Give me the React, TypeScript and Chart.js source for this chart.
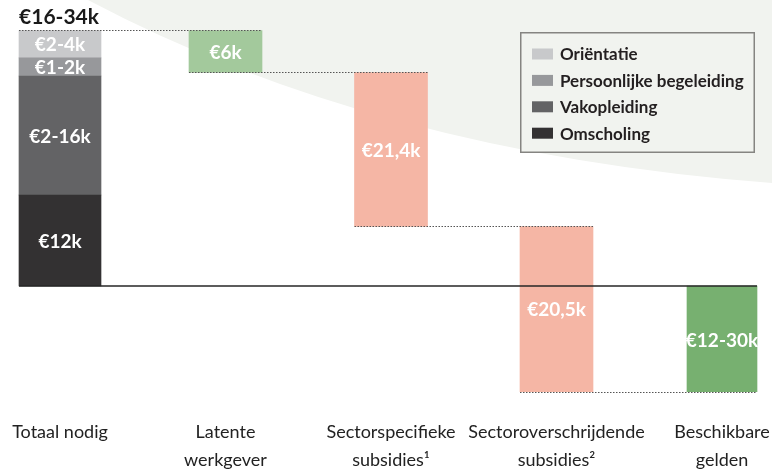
import React, { useEffect, useRef } from 'react';
import { Chart, registerables } from 'chart.js';

Chart.register(...registerables);

// ---- data ----
const categories: (string | string[])[] = [
  'Totaal nodig',
  ['Latente', 'werkgever'],
  ['Sectorspecifieke', 'subsidies¹'],
  ['Sectoroverschrijdende', 'subsidies²'],
  ['Beschikbare', 'gelden'],
];

// cost build-up of the first bar (bottom to top)
const costSegments = ['Omscholing', 'Vakopleiding', 'Persoonlijke begeleiding', 'Oriëntatie'];
const costValues = [13, 17, 2.6, 3.9];
const costLabels = ['€12k', '€2-16k', '€1-2k', '€2-4k'];
const totalLabel = '€16-34k';

// funding steps (reductions of what is needed)
const fundingValues = [6, 22, 23.6];
const fundingLabels = ['€6k', '€21,4k', '€20,5k'];
const availableLabel = '€12-30k';

// ---- styles ----
const costColors = ['#333132', '#636365', '#97989b', '#c8c9cb'];
const fundingColors = ['#a3c99c', '#f5b6a5', '#f5b6a5'];
const availableColor = '#77b070';
const shadeColor = '#f1f3ef';
const FONT = 'Lato, "Open Sans", sans-serif';

export default function App() {
  const ref = useRef<HTMLCanvasElement | null>(null);

  useEffect(() => {
    if (!ref.current) return;

    // cumulative ranges
    const costRanges: [number, number][] = [];
    let acc = 0;
    costValues.forEach((v) => {
      costRanges.push([acc, acc + v]);
      acc += v;
    });
    const total = acc;
    const levels: number[] = [total];
    const fundingRanges: [number, number][] = [];
    let lvl = total;
    fundingValues.forEach((v) => {
      fundingRanges.push([lvl - v, lvl]);
      lvl -= v;
      levels.push(lvl);
    });
    const finalLevel = lvl;

    const n = categories.length;
    const datasets: any[] = costSegments.map((name, i) => ({
      label: name,
      data: categories.map((_, c) => (c === 0 ? costRanges[i] : null)),
      backgroundColor: costColors[i],
      barThickness: 82,
      grouped: false,
      clip: false,
    }));
    datasets.push({
      label: 'Financiering',
      data: categories.map((_, c) => (c >= 1 && c <= fundingValues.length ? fundingRanges[c - 1] : null)),
      backgroundColor: categories.map((_, c) => (c >= 1 && c <= fundingValues.length ? fundingColors[c - 1] : 'transparent')),
      barThickness: 73,
      grouped: false,
      clip: false,
    });
    datasets.push({
      label: 'Beschikbaar',
      data: categories.map((_, c) => (c === n - 1 ? [finalLevel, 0] : null)),
      backgroundColor: availableColor,
      barThickness: 70,
      grouped: false,
      clip: false,
    });

    const shadePlugin = {
      id: 'shade',
      beforeDraw(chart: any) {
        const { ctx, width } = chart;
        ctx.save();
        ctx.fillStyle = shadeColor;
        ctx.beginPath();
        ctx.moveTo(88, 0);
        ctx.quadraticCurveTo(377, 153, width, 183);
        ctx.lineTo(width, 0);
        ctx.closePath();
        ctx.fill();
        ctx.restore();
      },
    };

    const overlayPlugin = {
      id: 'overlay',
      afterDatasetsDraw(chart: any) {
        const { ctx } = chart;
        const y = chart.scales.y;
        const rect = (dsIndex: number, idx: number) => {
          const el = chart.getDatasetMeta(dsIndex).data[idx];
          return { left: el.x - el.width / 2, right: el.x + el.width / 2, x: el.x, top: Math.min(el.y, el.base), bottom: Math.max(el.y, el.base) };
        };
        const fundIdx = costSegments.length;
        const availIdx = fundIdx + 1;
        const topSeg = rect(costSegments.length - 1, 0);
        const cats = [topSeg];
        for (let c = 1; c <= fundingValues.length; c++) cats.push(rect(fundIdx, c));
        cats.push(rect(availIdx, n - 1));

        ctx.save();
        // dotted connectors
        ctx.strokeStyle = '#555';
        ctx.lineWidth = 1;
        ctx.setLineDash([1.5, 1.5]);
        levels.forEach((lv, k) => {
          const py = Math.round(y.getPixelForValue(lv)) + 0.5;
          ctx.beginPath();
          ctx.moveTo(cats[k].left, py);
          ctx.lineTo(cats[k + 1].right, py);
          ctx.stroke();
        });
        ctx.setLineDash([]);
        // zero line
        ctx.strokeStyle = '#262626';
        ctx.lineWidth = 1.5;
        const zy = y.getPixelForValue(0);
        ctx.beginPath();
        ctx.moveTo(cats[0].left, zy);
        ctx.lineTo(cats[cats.length - 1].right, zy);
        ctx.stroke();

        // labels in bars
        ctx.textAlign = 'center';
        ctx.textBaseline = 'middle';
        ctx.fillStyle = '#ffffff';
        ctx.font = `bold 19px ${FONT}`;
        costLabels.forEach((t, i) => {
          const r = rect(i, 0);
          ctx.fillText(t, r.x, (r.top + r.bottom) / 2 + 1);
        });
        fundingLabels.forEach((t, i) => {
          const r = rect(fundIdx, i + 1);
          ctx.fillText(t, r.x, (r.top + r.bottom) / 2 + 1);
        });
        {
          const r = rect(availIdx, n - 1);
          ctx.fillText(availableLabel, r.x, (r.top + r.bottom) / 2 + 2);
        }
        // total label
        {
          const r = topSeg;
          ctx.fillStyle = '#1a1a1a';
          ctx.font = `bold 21px ${FONT}`;
          ctx.textBaseline = 'alphabetic';
          ctx.fillText(totalLabel, r.x - 1, r.top - 6);
        }

        // legend box
        const lx = 520, ly = 32, lw = 235, lh = 121;
        ctx.fillStyle = shadeColor;
        ctx.fillRect(lx, ly, lw, lh);
        ctx.strokeStyle = '#858481';
        ctx.lineWidth = 1.5;
        ctx.strokeRect(lx + 0.75, ly + 0.75, lw - 1.5, lh - 1.5);
        ctx.font = `bold 17px ${FONT}`;
        ctx.textAlign = 'left';
        ctx.textBaseline = 'middle';
        const order = [...costSegments.keys()].reverse();
        order.forEach((dsI, row) => {
          const cy = ly + 22 + row * 26.4;
          ctx.fillStyle = costColors[dsI];
          ctx.fillRect(lx + 12, cy - 5.5, 21, 11);
          ctx.fillStyle = '#231f20';
          ctx.fillText(costSegments[dsI], lx + 40, cy + 1);
        });
        ctx.restore();
      },
    };

    const chart = new Chart(ref.current, {
      type: 'bar',
      data: { labels: categories as any, datasets },
      options: {
        responsive: false,
        animation: false,
        layout: { padding: { left: 60, right: 50, top: 6, bottom: 0 } },
        plugins: { legend: { display: false }, tooltip: { enabled: false } },
        scales: {
          x: {
            type: 'category',
            offset: false,
            grid: { display: false, drawTicks: false },
            border: { display: false },
            ticks: {
              padding: 21,
              color: '#222',
              font: { family: FONT, size: 18, lineHeight: 28 / 18 },
              maxRotation: 0,
              autoSkip: false,
            },
            afterFit: (s: any) => {
              s.height = 76;
              s.paddingLeft = 0;
              s.paddingRight = 0;
            },
          },
          y: {
            display: false,
            min: -15.86,
            max: 40,
          },
        },
      },
      plugins: [shadePlugin, overlayPlugin],
    });

    (document as any).fonts?.ready?.then(() => chart.update());

    return () => chart.destroy();
  }, []);

  return (
    <div style={{ position: 'absolute', left: 0, top: 0, width: 772, height: 473 }}>
      <canvas ref={ref} width={772} height={473} style={{ display: 'block' }} />
    </div>
  );
}
